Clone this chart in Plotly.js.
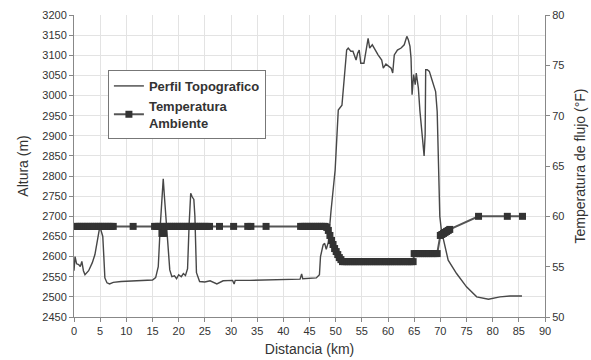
<!DOCTYPE html>
<html>
<head>
<meta charset="utf-8">
<script src="https://cdn.plot.ly/plotly-3.0.1.min.js"></script>
<style>html,body{margin:0;padding:0;background:#fff;}#chart{width:591px;height:360px;}</style>
</head>
<body>
<div id="chart"></div>
<script>
// Perfil topografico: distancia (km) y altura (m)
var perfilKm = [0.0,0.2,0.5,0.9,1.2,1.5,1.8,2.1,2.8,3.5,4.0,4.5,4.9,5.1,5.5,5.7,5.9,6.3,6.8,7.5,9.0,12.0,15.0,15.6,16.1,16.5,16.8,17.05,17.3,17.7,18.0,18.3,18.7,19.2,19.6,20.0,20.5,20.9,21.3,21.7,22.0,22.3,22.6,22.9,23.1,23.4,24.0,25.0,26.0,27.3,28.5,30.3,30.6,30.8,33.6,43.2,43.5,43.7,46.3,46.9,47.1,47.6,47.9,48.2,48.6,48.9,49.1,49.9,50.5,51.2,52.1,52.4,52.9,53.3,53.9,54.2,54.5,54.8,55.4,56.2,56.5,57.0,57.5,58.1,58.8,59.1,59.6,60.1,60.6,60.9,61.2,61.8,62.5,63.1,63.6,63.9,64.2,64.4,64.6,64.9,65.2,65.4,65.8,66.1,66.6,66.9,67.1,67.2,67.5,67.9,68.5,69.1,69.4,69.6,69.9,70.2,70.9,71.5,73.1,75.0,76.95,79.2,81.4,83.3,85.6];
var perfilAlt = [2565,2600,2582,2580,2575,2588,2565,2555,2565,2585,2605,2640,2672,2668,2650,2600,2547,2535,2532,2536,2538,2540,2542,2548,2575,2680,2760,2793,2745,2670,2600,2567,2550,2552,2545,2555,2550,2558,2553,2570,2680,2757,2748,2742,2700,2560,2538,2537,2540,2532,2540,2541,2532,2541,2541,2544,2557,2545,2547,2555,2600,2629,2633,2618,2636,2699,2712,2815,2964,2976,3113,3118,3110,3110,3088,3105,3113,3080,3080,3142,3118,3126,3113,3101,3088,3068,3078,3072,3068,3056,3101,3113,3118,3126,3147,3138,3122,3093,3002,3052,3027,3056,3019,2962,2887,2850,2904,3064,3064,3060,3035,3010,2960,2854,2700,2665,2624,2591,2558,2525,2500,2494,2500,2502,2502];

// Temperatura ambiente: distancia (km) y temperatura (°F)
var tempKm = [0.3,0.7,1.1,1.5,1.9,2.3,2.7,3.1,3.5,3.9,4.3,4.7,5.1,5.5,5.9,6.3,6.7,7.1,7.5,
  11.3,
  15.4,15.8,16.2,16.6,16.8,17.1,17.4,17.8,18.2,18.6,19.0,19.4,19.8,20.2,20.6,21.0,21.4,21.8,22.2,22.6,23.0,23.4,23.8,24.2,24.6,25.0,25.4,25.9,
  27.8,30.5,33.2,33.8,36.7,
  43.3,43.7,44.1,44.5,44.9,45.3,45.7,46.1,46.5,46.9,47.3,47.7,48.0,
  48.3,48.6,48.9,49.2,49.5,49.8,50.1,50.4,50.7,51.0,51.3,
  51.7,52.1,52.5,52.9,53.3,53.7,54.1,54.5,54.9,55.3,55.7,56.1,56.5,56.9,57.3,57.7,58.1,58.5,58.9,59.3,59.7,60.1,60.5,60.9,61.3,61.7,62.1,62.5,62.9,63.3,63.7,64.1,64.5,64.8,
  65.0,65.4,65.8,66.2,66.6,67.0,67.4,67.8,68.2,68.6,69.0,69.4,
  70.0,70.3,70.6,70.9,71.2,71.5,71.8,
  77.3,82.8,85.7];
var tempF = [59,59,59,59,59,59,59,59,59,59,59,59,59,59,59,59,59,59,59,
  59,
  59,59,59,59,58.3,58.3,59,59,59,59,59,59,59,59,59,59,59,59,59,59,59,59,59,59,59,59,59,59,
  59,59,59,59,59,
  59,59,59,59,59,59,59,59,59,59,59,59,59,
  58.9,58.6,58.1,57.6,57.2,56.8,56.5,56.2,55.9,55.7,55.5,
  55.5,55.5,55.5,55.5,55.5,55.5,55.5,55.5,55.5,55.5,55.5,55.5,55.5,55.5,55.5,55.5,55.5,55.5,55.5,55.5,55.5,55.5,55.5,55.5,55.5,55.5,55.5,55.5,55.5,55.5,55.5,55.5,55.5,55.5,
  56.3,56.3,56.3,56.3,56.3,56.3,56.3,56.3,56.3,56.3,56.3,56.3,
  58.1,58.2,58.3,58.4,58.5,58.6,58.7,
  60,60,60];

var xTicks = [0,5,10,15,20,25,30,35,40,45,50,55,60,65,70,75,80,85,90];

var font = 'Liberation Sans, Arial, sans-serif';
var traces = [
  {x: perfilKm, y: perfilAlt, type: 'scatter', mode: 'lines', name: '<b>Perfil Topografico</b>',
   line: {color: '#474747', width: 1.4}, yaxis: 'y'},
  {x: tempKm, y: tempF, type: 'scatter', mode: 'lines+markers', name: '<b>Temperatura<br>Ambiente</b>',
   line: {color: '#555555', width: 2}, marker: {symbol: 'square', size: 7, color: '#333333'}, yaxis: 'y2'}
];
var layout = {
  width: 591, height: 360,
  margin: {l: 74, r: 46, t: 15, b: 43},
  paper_bgcolor: '#fff', plot_bgcolor: '#fff',
  font: {family: font, color: '#333', size: 11},
  showlegend: true,
  legend: {x: 0.072, y: 0.818, xanchor: 'left', yanchor: 'top', bgcolor: '#fff',
    bordercolor: '#777', borderwidth: 1, font: {family: font, size: 13, color: '#333'},
    tracegroupgap: 12, itemwidth: 30},
  xaxis: {range: [0, 90], tickvals: xTicks, ticktext: xTicks.map(String), showgrid: true, gridcolor: '#e3e3e3',
    showline: true, linecolor: '#888', linewidth: 1, ticks: 'outside', ticklen: 4, tickcolor: '#888',
    zeroline: false, tickfont: {size: 11, color: '#333'},
    title: {text: 'Distancia (km)', font: {size: 14, color: '#333'}, standoff: 7}},
  yaxis: {range: [2450, 3200], dtick: 50, showgrid: true, gridcolor: '#e3e3e3',
    showline: true, linecolor: '#888', linewidth: 1, ticks: 'outside', ticklen: 4, tickcolor: '#888',
    zeroline: false, tickfont: {size: 11, color: '#333'},
    title: {text: 'Altura (m)', font: {size: 14, color: '#333'}, standoff: 10}},
  yaxis2: {range: [50, 80], dtick: 5, overlaying: 'y', side: 'right', showgrid: false,
    showline: true, linecolor: '#888', linewidth: 1, ticks: 'outside', ticklen: 4, tickcolor: '#888',
    zeroline: false, tickfont: {size: 11, color: '#333'},
    title: {text: 'Temperatura de flujo (°F)', font: {size: 14, color: '#333'}, standoff: 11}}
};
Plotly.newPlot('chart', traces, layout, {displayModeBar: false, staticPlot: true});
</script>
</body>
</html>
